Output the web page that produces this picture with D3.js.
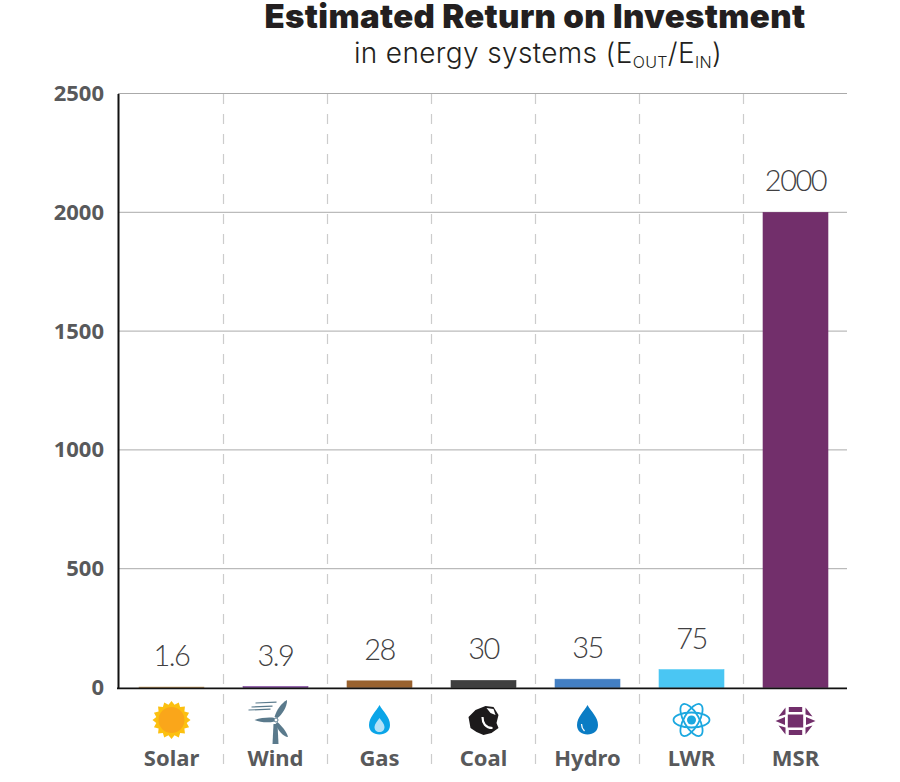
<!DOCTYPE html>
<html>
<head>
<meta charset="utf-8">
<script src="https://cdn.jsdelivr.net/npm/d3@7"></script>
<style>
    html, body { margin: 0; padding: 0; background: #fff; }
    svg { display: block; }
</style>
</head>
<body>
<svg id="chart" width="900" height="782"></svg>
<script>
const categories = ['Solar', 'Wind', 'Gas', 'Coal', 'Hydro', 'LWR', 'MSR'];
const values = [1.6, 3.9, 28, 30, 35, 75, 2000];
const valueLabels = ['1.6', '3.9', '28', '30', '35', '75', '2000'];
const barColors = ['#b5803a', '#7b3f98', '#99622f', '#3f3f3f', '#437fc3', '#4ac6f3', '#722f6b'];
const yTicks = [0, 500, 1000, 1500, 2000, 2500];

const svg = d3.select('#chart');

const x = d3.scaleBand()
    .domain(categories)
    .range([119.5, 847.5])
    .paddingInner(0.375)
    .paddingOuter(0.1875);
const y = d3.scaleLinear()
    .domain([0, 2500])
    .range([687.5, 93.5]);
const step = x.step();

// title
svg.append('text')
    .attr('x', 535).attr('y', 28)
    .attr('text-anchor', 'middle')
    .attr('font-family', 'Inter')
    .attr('font-weight', 900)
    .attr('font-size', 33)
    .attr('letter-spacing', 0.35)
    .attr('fill', '#231f20')
    .text('Estimated Return on Investment');

const sub = svg.append('text')
    .attr('x', 538).attr('y', 63)
    .attr('text-anchor', 'middle')
    .attr('font-family', 'Inter')
    .attr('font-weight', 300)
    .attr('font-size', 28)
    .attr('letter-spacing', 0.35)
    .attr('fill', '#231f20');
sub.append('tspan').text('in energy systems (E');
sub.append('tspan').attr('font-size', 16).attr('dy', 5).text('OUT');
sub.append('tspan').attr('dy', -5).text('/E');
sub.append('tspan').attr('font-size', 16).attr('dy', 5).text('IN');
sub.append('tspan').attr('dy', -5).text(')');

// gridlines
svg.append('g')
    .selectAll('line')
    .data(yTicks.filter(d => d > 0))
    .join('line')
    .attr('x1', 118).attr('x2', 847)
    .attr('y1', d => y(d)).attr('y2', d => y(d))
    .attr('stroke', '#aaaaaa')
    .attr('stroke-width', 1);

// dashed separators between the categories
svg.append('g')
    .selectAll('line')
    .data(categories.slice(1))
    .join('line')
    .attr('x1', d => x(d) - (step - x.bandwidth()) / 2)
    .attr('x2', d => x(d) - (step - x.bandwidth()) / 2)
    .attr('y1', 94).attr('y2', 773)
    .attr('stroke', '#cccccc')
    .attr('stroke-width', 1.2)
    .attr('stroke-dasharray', '10 10');

// bars, thin outline keeps the smallest ones visible
svg.append('g')
    .selectAll('rect')
    .data(categories)
    .join('rect')
    .attr('x', d => x(d))
    .attr('width', x.bandwidth())
    .attr('y', (d, i) => y(values[i]))
    .attr('height', (d, i) => y(0) - y(values[i]))
    .attr('fill', (d, i) => barColors[i])
    .attr('stroke', (d, i) => barColors[i])
    .attr('stroke-width', 0.6);

// value labels
svg.append('g')
    .selectAll('text')
    .data(categories)
    .join('text')
    .attr('x', d => x(d) + x.bandwidth() / 2)
    .attr('y', (d, i) => y(values[i]) - 21)
    .attr('text-anchor', 'middle')
    .attr('font-family', 'Lato')
    .attr('font-weight', 300)
    .attr('font-size', 29)
    .attr('letter-spacing', -1.5)
    .attr('fill', '#414042')
    .text((d, i) => valueLabels[i]);

// y axis
const yAxis = d3.axisLeft(y)
    .tickValues(yTicks)
    .tickSize(0)
    .tickPadding(14)
    .tickFormat(d3.format('d'));
const yG = svg.append('g')
    .attr('transform', 'translate(118,0)')
    .call(yAxis);
yG.select('.domain').attr('stroke', '#111').attr('stroke-width', 2);
yG.selectAll('text')
    .attr('font-family', 'Noto Sans')
    .attr('font-weight', 700)
    .attr('font-size', 22)
    .attr('fill', '#58595b');

// x axis
const xAxis = d3.axisBottom(x).tickSize(0).tickPadding(62);
const xG = svg.append('g')
    .attr('transform', 'translate(0,' + (y(0) + 0.8) + ')')
    .call(xAxis);
xG.select('.domain')
    .attr('d', 'M117,0H847')
    .attr('stroke', '#111')
    .attr('stroke-width', 1.8);
xG.selectAll('text')
    .attr('font-family', 'Noto Sans')
    .attr('font-weight', 700)
    .attr('font-size', 22)
    .attr('fill', '#58595b');

// icons below the axis
const iconY = 720;
const drop = 'M0,-15C3,-9 10.5,-3 10.5,5C10.5,11 6,14.5 0,14.5C-6,14.5 -10.5,11 -10.5,5C-10.5,-3 -3,-9 0,-15Z';
const icons = {
    Solar(g) {
        const pts = d3.range(32).map(i => {
            const a = i * Math.PI / 16;
            const r = i % 2 ? 15.5 : 19;
            return [r * Math.sin(a), r * Math.cos(a)];
        });
        g.append('polygon').attr('points', pts.join(' ')).attr('fill', '#fcc010');
        g.append('circle').attr('r', 13).attr('fill', '#faa61a');
    },
    Wind(g) {
        const c = '#5a7a8c';
        g.append('path').attr('d', 'M-21,0C-14,-2.5 -5,-3 -1,-2L-1,1.5C-7,3 -15,2.5 -21,0Z').attr('fill', c);
        g.append('path').attr('d', 'M-1,-3C1,-10 6,-17 11.5,-20C12,-13 6,-5 2,-2Z').attr('fill', c);
        g.append('path').attr('d', 'M2,2C6,6 11,11 12.5,17C8,17 2,10 0,4Z').attr('fill', c);
        g.append('path').attr('d', 'M-2,4L2,4L3,24L-3,24Z').attr('fill', c);
        g.append('circle').attr('cx', 0.5).attr('r', 2).attr('fill', '#fff').attr('stroke', c).attr('stroke-width', 1);
        [[-20, -17, 1], [-24, -13, -3], [-27, -10, -5]].forEach(([a, b, e]) => {
            g.append('line').attr('x1', a).attr('y1', b).attr('x2', e).attr('y2', b - 0.8)
                .attr('stroke', c).attr('stroke-width', 1.2);
        });
    },
    Gas(g) {
        g.append('path').attr('d', drop).attr('fill', '#0aa5e8');
        g.append('path').attr('d', 'M0,-2C2,1 5,4 5,7C5,10 3,12 0,12C-3,12 -5,10 -5,7C-5,4 -2,1 0,-2Z').attr('fill', '#b3e2f8');
    },
    Coal(g) {
        g.append('path')
            .attr('d', 'M-15,-3L-8,-10L2,-14L10,-13L15,-5L13,3L15,8L8,13L0,15L-7,12L-13,8Z')
            .attr('fill', '#1c1a1b');
        g.append('path')
            .attr('d', 'M3,-12L10,-11L12,-5L7,-7Z')
            .attr('fill', '#fff');
        g.append('path')
            .attr('d', 'M-1,-3C-1,3 2,8 9,8')
            .attr('fill', 'none')
            .attr('stroke', '#fff')
            .attr('stroke-width', 2.2);
    },
    Hydro(g) {
        g.append('path').attr('d', drop).attr('fill', '#0a7cc4');
        g.append('path').attr('d', 'M-6,4C-6,7 -5,9 -3,11').attr('fill', 'none')
            .attr('stroke', '#fff').attr('stroke-width', 1.3);
    },
    LWR(g) {
        const c = '#1ba8e0';
        [0, 60, 120].forEach(r => {
            g.append('ellipse').attr('rx', 18).attr('ry', 7.5)
                .attr('transform', 'rotate(' + r + ')')
                .attr('fill', 'none').attr('stroke', c).attr('stroke-width', 1.8);
        });
        g.append('circle').attr('r', 4.5).attr('fill', c);
    },
    MSR(g) {
        const c = '#722f6b';
        const shapes = [
            'M-7.7,-6.5H7.7V6.5H-7.7Z',
            'M-6.7,-14H6.7V-9H-6.7Z',
            'M-6.7,9H6.7V14H-6.7Z',
            'M-20,0L-10.5,-4V4Z',
            'M20,0L10.5,-4V4Z',
            'M-17,-4.5L-10,-13.5V-6.5Z',
            'M17,-4.5L10,-13.5V-6.5Z',
            'M-17,4.5L-10,13.5V6.5Z',
            'M17,4.5L10,13.5V6.5Z'
        ];
        g.append('path').attr('transform', 'translate(0,1)').attr('d', shapes.join(' ')).attr('fill', c);
    }
};
svg.append('g')
    .selectAll('g')
    .data(categories)
    .join('g')
    .attr('transform', d => 'translate(' + (x(d) + x.bandwidth() / 2) + ',' + iconY + ')')
    .each(function(d) { icons[d](d3.select(this)); });
</script>
</body>
</html>
